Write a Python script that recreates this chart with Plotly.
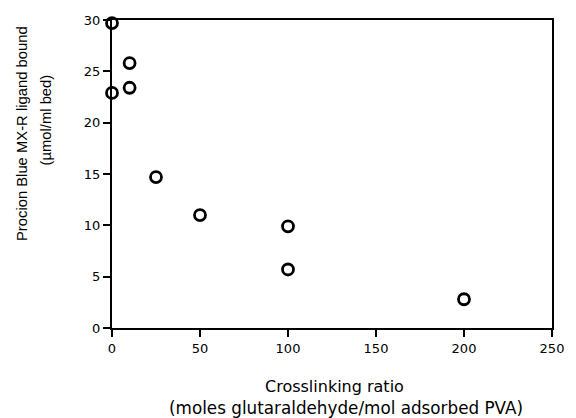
import plotly.graph_objects as go

# Data
crosslink_ratio = [0, 0, 10, 10, 25, 50, 100, 100, 200]
ligand_bound = [29.7, 22.9, 25.8, 23.4, 14.7, 11.0, 9.9, 5.7, 2.8]

x_ticks = [0, 50, 100, 150, 200, 250]
y_ticks = [0, 5, 10, 15, 20, 25, 30]

x_title_1 = "Crosslinking ratio"
x_title_2 = "(moles glutaraldehyde/mol adsorbed PVA)"
y_title_1 = "Procion Blue MX-R ligand bound"
y_title_2 = "(µmol/ml bed)"

fig = go.Figure()
fig.add_trace(go.Scatter(
    x=crosslink_ratio, y=ligand_bound, mode="markers",
    marker=dict(symbol="circle-open", size=11, color="black",
                line=dict(color="black", width=2.8)),
    cliponaxis=False, showlegend=False,
))

axis_common = dict(
    showline=True, linecolor="black", linewidth=2, mirror=True,
    ticks="outside", ticklen=7, tickwidth=2, tickcolor="black",
    showgrid=False, zeroline=False,
    tickfont=dict(family="DejaVu Sans", size=13, color="black"),
)

fig.update_xaxes(range=[0, 250], tickvals=x_ticks, **axis_common)
fig.update_yaxes(range=[0, 30], tickvals=y_ticks, **axis_common)

fig.update_layout(
    width=576, height=418,
    margin=dict(l=112, r=14, t=20, b=90),
    paper_bgcolor="white", plot_bgcolor="white",
    annotations=[
        dict(text=x_title_1, xref="paper", yref="paper", x=(339.5 - 112) / 450, y=-(386.5 - 328) / 308,
             showarrow=False, xanchor="center", yanchor="middle",
             font=dict(family="DejaVu Sans", size=16, color="black")),
        dict(text=x_title_2, xref="paper", yref="paper", x=(351 - 112) / 450, y=-(407.5 - 328) / 308,
             showarrow=False, xanchor="center", yanchor="middle",
             font=dict(family="DejaVu Sans", size=16.8, color="black")),
        dict(text=y_title_1, xref="paper", yref="paper", x=-(112 - 20) / 450, y=(328 - 134) / 308,
             showarrow=False, xanchor="center", yanchor="middle", textangle=-90,
             font=dict(family="Liberation Sans", size=14.8, color="black")),
        dict(text=y_title_2, xref="paper", yref="paper", x=-(112 - 45) / 450, y=(328 - 120) / 308,
             showarrow=False, xanchor="center", yanchor="middle", textangle=-90,
             font=dict(family="Liberation Sans", size=14.8, color="black")),
    ],
)

fig.write_html("out.html")
